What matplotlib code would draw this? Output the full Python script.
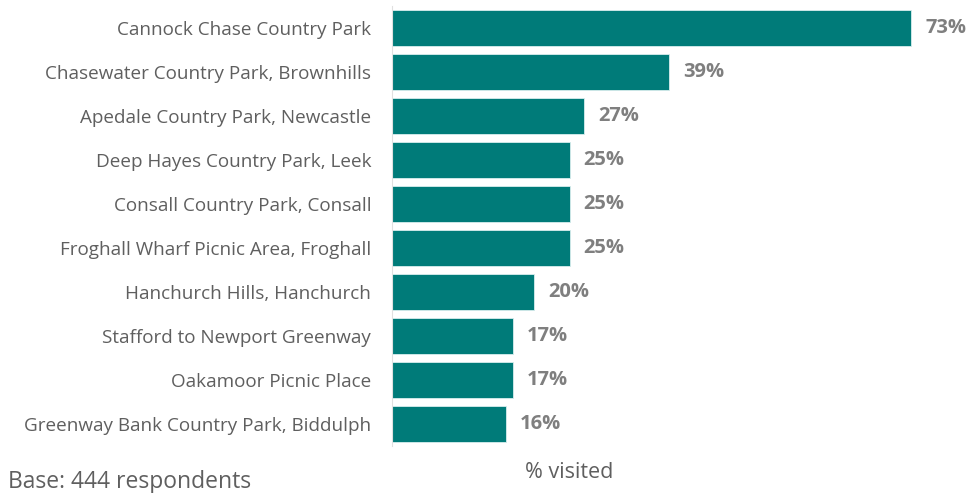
import matplotlib
matplotlib.use("Agg")
import matplotlib.pyplot as plt

# Parcs visites, du plus frequente au moins frequente
parcs = [
    "Cannock Chase Country Park",
    "Chasewater Country Park, Brownhills",
    "Apedale Country Park, Newcastle",
    "Deep Hayes Country Park, Leek",
    "Consall Country Park, Consall",
    "Froghall Wharf Picnic Area, Froghall",
    "Hanchurch Hills, Hanchurch",
    "Stafford to Newport Greenway",
    "Oakamoor Picnic Place",
    "Greenway Bank Country Park, Biddulph",
]
pct_visite = [73, 39, 27, 25, 25, 25, 20, 17, 17, 16]

plt.rcParams['font.family'] = ['Open Sans', 'DejaVu Sans']

fig = plt.figure(figsize=(9.7, 4.93), dpi=100)
ax = fig.add_axes([392 / 970, 1 - 446 / 493, 569 / 970, 440 / 493])

y = list(range(len(parcs)))
ax.barh(y, pct_visite, height=0.84, color="#007b79", edgecolor="#d8eeee", linewidth=0.6)
ax.set_ylim(len(parcs) - 0.5, -0.5)
ax.set_xlim(0, 80)

ax.set_yticks(y)
ax.set_yticklabels(parcs, fontsize=13.6, color="#5f5f5f")
ax.tick_params(axis='y', length=0, pad=15)
ax.set_xticks([])

for s in ['top', 'right', 'bottom']:
    ax.spines[s].set_visible(False)
ax.spines['left'].set_color("#e0e0e0")
ax.spines['left'].set_linewidth(0.8)

for i, v in enumerate(pct_visite):
    ax.annotate(f"{v}%", (v, i), xytext=(10, 0), textcoords="offset points",
                va="center", ha="left", fontsize=14.5, fontweight="bold", color="#7f7f7f")

fig.text(525 / 970, 1 - 472 / 493, "% visited", fontsize=15.5, color="#5f5f5f", va="center")
fig.text(8 / 970, 1 - 482 / 493, "Base: 444 respondents", fontsize=16.5, color="#5f5f5f", va="center")

fig.savefig("out.png", dpi=100)
